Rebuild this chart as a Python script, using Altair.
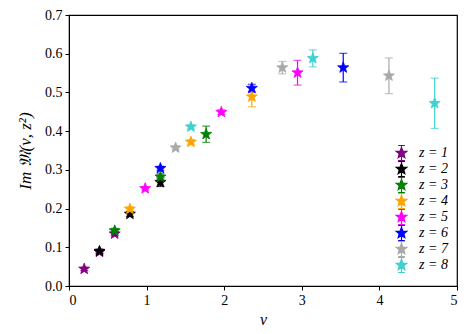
import math
import altair as alt
import pandas as pd

# ---- data ----
labels = ["z = 1", "z = 2", "z = 3", "z = 4", "z = 5", "z = 6", "z = 7", "z = 8"]
colors = ["#800080", "#000000", "#008000", "#FFA500", "#FF00FF", "#0000FF", "#A9A9A9", "#40D0D0"]

nu_z1 = [0.196, 0.393, 0.589]
im_z1 = [0.044, 0.088, 0.135]
er_z1 = [0.004, 0.005, 0.005]

nu_z2 = [0.393, 0.785, 1.178]
im_z2 = [0.090, 0.186, 0.268]
er_z2 = [0.005, 0.006, 0.011]

nu_z3 = [0.589, 1.178, 1.767]
im_z3 = [0.143, 0.282, 0.392]
er_z3 = [0.006, 0.008, 0.021]

nu_z4 = [0.785, 1.571, 2.356]
im_z4 = [0.199, 0.372, 0.489]
er_z4 = [0.005, 0.006, 0.026]

nu_z5 = [0.982, 1.963, 2.945]
im_z5 = [0.252, 0.449, 0.551]
er_z5 = [0.004, 0.006, 0.032]

nu_z6 = [1.178, 2.356, 3.534]
im_z6 = [0.304, 0.511, 0.564]
er_z6 = [0.005, 0.010, 0.037]

nu_z7 = [1.374, 2.749, 4.123]
im_z7 = [0.357, 0.564, 0.543]
er_z7 = [0.004, 0.016, 0.046]

nu_z8 = [1.571, 3.142, 4.712]
im_z8 = [0.411, 0.588, 0.472]
er_z8 = [0.005, 0.022, 0.065]

series = [
    (nu_z1, im_z1, er_z1), (nu_z2, im_z2, er_z2), (nu_z3, im_z3, er_z3),
    (nu_z4, im_z4, er_z4), (nu_z5, im_z5, er_z5), (nu_z6, im_z6, er_z6),
    (nu_z7, im_z7, er_z7), (nu_z8, im_z8, er_z8),
]

x_ticks = [0, 1, 2, 3, 4, 5]
y_ticks = [0.0, 0.1, 0.2, 0.3, 0.4, 0.5, 0.6, 0.7]

rows = []
for k, (nus, ims, ers) in enumerate(series):
    for n, m, e in zip(nus, ims, ers):
        rows.append({"label": labels[k], "order": k, "nu": n, "im": m,
                     "lo": m - e, "hi": m + e})
df = pd.DataFrame(rows)


def star_path(r_out, r_in):
    pts = []
    for i in range(10):
        ang = -math.pi / 2 + i * math.pi / 5
        r = r_out if i % 2 == 0 else r_in
        pts.append((r * math.cos(ang), r * math.sin(ang)))
    return "M" + "L".join(f"{x:.3f},{y:.3f}" for x, y in pts) + "Z"


STAR = star_path(1.0, 0.42)
LEG = star_path(0.75, 0.32) + "M0,-1L0,1M-0.45,-1L0.45,-1M-0.45,1L0.45,1"

serif = "Liberation Serif"
cscale = alt.Scale(domain=labels, range=colors)

leg = alt.Legend(
    title=None, orient="none", legendX=324, legendY=130,
    symbolType=LEG, symbolSize=225, symbolStrokeWidth=1.2, symbolOpacity=1,
    labelFont=serif, labelFontStyle="italic", labelFontSize=14,
    labelOffset=9, rowPadding=0, padding=0, clipHeight=16,
)

xaxis = alt.Axis(values=x_ticks, format="d", title="ν", grid=False,
                 labelFont=serif, labelFontSize=14, labelOverlap=False,
                 titleFont=serif, titleFontStyle="italic", titleFontSize=16,
                 titleFontWeight="normal", titlePadding=4)
yaxis = alt.Axis(values=y_ticks, format=".1f", title="Im 𝔐(ν, z²)", grid=False,
                 labelFont=serif, labelFontSize=14, labelOverlap=False,
                 titleFont=serif, titleFontStyle="italic", titleFontSize=17,
                 titleFontWeight="normal", titlePadding=10)
xsc = alt.Scale(domain=[0, 5], nice=False)
ysc = alt.Scale(domain=[0, 0.7], nice=False)

base = alt.Chart(df)
cplain = alt.Color("label:N", scale=cscale, sort=labels, legend=None)

bars = base.mark_rule(strokeWidth=1.2).encode(
    x=alt.X("nu:Q", scale=xsc, axis=xaxis),
    y=alt.Y("lo:Q", scale=ysc, axis=yaxis), y2="hi:Q",
    color=cplain, order="order:Q",
)
caps_lo = base.mark_tick(orient="horizontal", size=8, thickness=1.2).encode(
    x=alt.X("nu:Q", scale=xsc, axis=xaxis),
    y=alt.Y("lo:Q", scale=ysc, axis=yaxis), color=cplain)
caps_hi = base.mark_tick(orient="horizontal", size=8, thickness=1.2).encode(
    x=alt.X("nu:Q", scale=xsc, axis=xaxis),
    y=alt.Y("hi:Q", scale=ysc, axis=yaxis), color=cplain)

stars = base.mark_point(shape=STAR, filled=True, size=135, opacity=1, strokeWidth=0.8).encode(
    x=alt.X("nu:Q", scale=xsc, axis=xaxis),
    y=alt.Y("im:Q", scale=ysc, axis=yaxis),
    color=alt.Color("label:N", scale=cscale, sort=labels, legend=leg),
    stroke=alt.Stroke("label:N", scale=cscale, sort=labels, legend=leg),
    order="order:Q",
)

chart = alt.layer(bars, caps_lo, caps_hi, stars).resolve_legend(
    color="independent", stroke="independent"
).properties(
    width=388, height=271,
    autosize=alt.AutoSizeParams(type="none"),
    padding={"left": 61, "top": 7, "right": 5, "bottom": 48},
).configure_view(stroke="black", strokeWidth=1.2).configure_axis(
    labelColor="black", domainColor="black", tickColor="black", tickSize=4,
    labelPadding=3, titleColor="black", labelFont=serif,
)

chart.save("out.html", embed_options={"renderer": "svg", "actions": False})
